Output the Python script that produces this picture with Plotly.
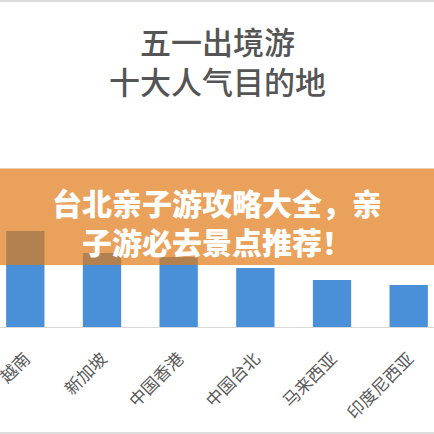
import plotly.graph_objects as go

# destinations visible in the picture (left one partly cut off)
places = ['越南', '新加坡', '中国香港', '中国台北', '马来西亚', '印度尼西亚']
visits = [9.6, 7.4, 7.0, 5.9, 4.7, 4.2]

title_lines = ['五一出境游', '十大人气目的地']
banner_lines = ['台北亲子游攻略大全，亲', '子游必去景点推荐！']

fig = go.Figure(go.Bar(
    x=places,
    y=visits,
    width=0.5,
    marker=dict(color='#4a90d9', line=dict(width=0))))

fig.update_layout(
    width=434, height=434,
    margin=dict(l=0, r=0, t=170, b=107, autoexpand=False),
    paper_bgcolor='white', plot_bgcolor='white',
    showlegend=False,
    font=dict(family='Noto Sans CJK SC', color='#595959'),
    xaxis=dict(range=[-0.33, 5.33], tickangle=-45, showgrid=False,
               showline=True, linecolor='#d9d9d9', linewidth=1,
               ticks='', tickfont=dict(size=17, color='#595959'),
               ticklabelstandoff=14),
    yaxis=dict(range=[0, 15.7], visible=False),
)

# title, two lines
fig.add_annotation(x=0.5, xref='paper', yref='paper', showarrow=False,
                   y=1 + (170 - 60) / 157, yanchor='middle',
                   text='<br>'.join(title_lines),
                   font=dict(size=31, color='#555555', weight=500))

# orange banner over the chart
fig.add_shape(type='rect', xref='paper', yref='paper', layer='above',
              x0=-0.01, x1=1.01, y0=(327 - 265) / 157, y1=1.01,
              fillcolor='rgb(223,121,22)', opacity=0.7, line=dict(width=0))
fig.add_annotation(x=0.5, xref='paper', yref='paper', showarrow=False,
                   y=(327 - 221) / 157, yanchor='middle',
                   text='<br>'.join(banner_lines),
                   font=dict(size=30, color='white', weight=900))

# thin grey frame lines at top and bottom
fig.add_shape(type='rect', xref='paper', yref='paper', layer='above',
              x0=-0.01, x1=1.01, y0=1 + 168 / 157, y1=1 + 171 / 157,
              fillcolor='#dddddd', line=dict(width=0))
fig.add_shape(type='rect', xref='paper', yref='paper', layer='above',
              x0=-0.01, x1=1.01, y0=-107 / 157, y1=-105 / 157,
              fillcolor='#dddddd', line=dict(width=0))

fig.write_html("out.html", config={'displayModeBar': False},
               post_script="document.body.style.margin='0';")
